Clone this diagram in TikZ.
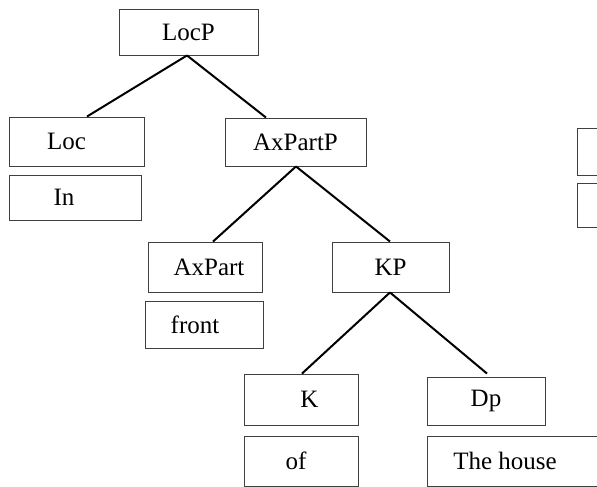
\documentclass[tikz,border=0pt]{standalone}
\usepackage{fontspec}
\setmainfont{Liberation Serif}
\begin{document}
\begin{tikzpicture}[x=1pt,y=1pt,
  box/.style={draw=black!75,line width=0.9pt,inner sep=0pt,rectangle,
    font=\fontsize{25}{29}\selectfont},
  edge/.style={line width=2pt,black}]
\useasboundingbox (0,0) rectangle (597,487);
\clip (0,0) rectangle (597,487);
\node[box,minimum width=139pt,minimum height=46pt] (LocP) at (188.5,455) {LocP};
\node[box,minimum width=135pt,minimum height=49pt] (Loc) at (76.5,345.5) {Loc\hspace*{20pt}};
\node[box,minimum width=132pt,minimum height=45pt] (In) at (75,289.5) {In\hspace*{22pt}};
\node[box,minimum width=141pt,minimum height=48pt] (AxPartP) at (295.5,345) {AxPartP};
\node[box,minimum width=114pt,minimum height=50pt] (AxPart) at (205,220) {\hspace*{8pt}AxPart};
\node[box,minimum width=118pt,minimum height=47pt] (front) at (204,162.5) {front\hspace*{18pt}};
\node[box,minimum width=117pt,minimum height=50pt] (KP) at (390.5,220) {KP};
\node[box,minimum width=114pt,minimum height=51pt] (K) at (301,87.5) {\hspace*{17pt}K};
\node[box,minimum width=114pt,minimum height=50pt] (of) at (301,26) {of\hspace*{10pt}};
\node[box,minimum width=118pt,minimum height=48pt] (Dp) at (486,86) {Dp};
\node[box,minimum width=193pt,minimum height=50pt] (house) at (523.5,26) {The house\hspace*{37pt}};
\node[box,minimum width=43pt,minimum height=47pt] (R1) at (598.5,335.5) {};
\node[box,minimum width=43pt,minimum height=44pt] (R2) at (598.5,282) {};
\draw[edge] ([xshift=-1.5pt]LocP.south) -- ([xshift=10.5pt]Loc.north);
\draw[edge] ([xshift=-1.5pt]LocP.south) -- ([xshift=-29.5pt]AxPartP.north);
\draw[edge] ([xshift=0.5pt]AxPartP.south) -- ([xshift=8pt]AxPart.north);
\draw[edge] ([xshift=0.5pt]AxPartP.south) -- ([xshift=-0.5pt]KP.north);
\draw[edge] ([xshift=-0.5pt]KP.south) -- ([xshift=1pt,yshift=0pt]K.north);
\draw[edge] ([xshift=-0.5pt]KP.south) -- ([xshift=1pt,yshift=3pt]Dp.north);
\end{tikzpicture}
\end{document}
